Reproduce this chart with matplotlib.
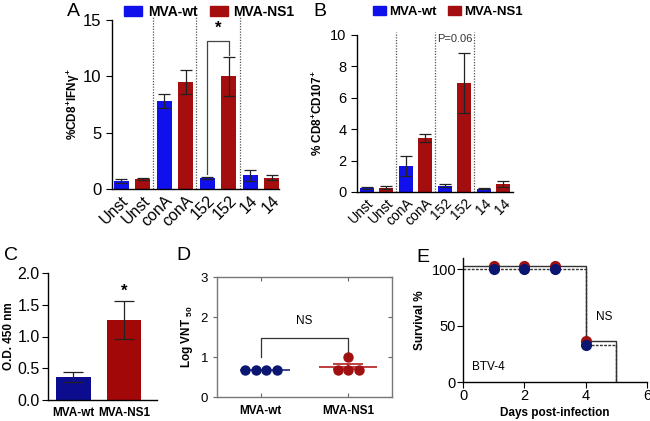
import numpy as np
import matplotlib
matplotlib.use("Agg")
import matplotlib.pyplot as plt
from matplotlib.patches import Patch

plt.rcParams["font.family"] = ["Liberation Sans", "DejaVu Sans"]
plt.rcParams["mathtext.fontset"] = "custom"
plt.rcParams["mathtext.rm"] = "Liberation Sans:bold"
plt.rcParams["mathtext.it"] = "Liberation Sans:bold"
plt.rcParams["mathtext.bf"] = "Liberation Sans:bold"
plt.rcParams["axes.linewidth"] = 1.0

# ---- data ----
groups = ["MVA-wt", "MVA-NS1"]
stim_labels = ["Unst", "Unst", "conA", "conA", "152", "152", "14", "14"]

ifn_wt = [0.7, 7.8, 0.95, 1.2]
ifn_wt_err = [0.15, 0.6, 0.1, 0.45]
ifn_ns1 = [0.9, 9.5, 10.0, 1.0]
ifn_ns1_err = [0.12, 1.05, 1.75, 0.2]

cd107_wt = [0.25, 1.65, 0.4, 0.22]
cd107_wt_err = [0.08, 0.65, 0.1, 0.06]
cd107_ns1 = [0.28, 3.45, 6.95, 0.52]
cd107_ns1_err = [0.08, 0.25, 1.9, 0.18]

od450 = [0.36, 1.26]
od450_err = [0.08, 0.3]

vnt_wt = [0.68, 0.68, 0.68, 0.68]
vnt_ns1 = [0.68, 0.68, 0.68, 1.0]

surv_days = [0, 4, 5]
surv_wt = [100, 33, 0]
surv_ns1 = [102.5, 36, 0]
mark_days = [1, 2, 3, 4]
mark_wt = [100, 100, 100, 33]
mark_ns1 = [103, 103, 103, 36]

BLUE = "#1010EC"
RED = "#A50E0E"
NAVY = "#0C0C8E"
DRED = "#A20808"

W, H = 650, 421
fig = plt.figure(figsize=(W / 100, H / 100), dpi=100)


def px_axes(x0, y0, x1, y1):
    return fig.add_axes([x0 / W, 1 - y1 / H, (x1 - x0) / W, (y1 - y0) / H])


def bar_panel(ax, wt, wt_err, ns1, ns1_err, ymax, step, tick_fs):
    vals, errs, cols = [], [], []
    for i in range(len(wt)):
        vals += [wt[i], ns1[i]]
        errs += [wt_err[i], ns1_err[i]]
        cols += [BLUE, RED]
    x = np.arange(len(vals))
    ax.bar(x, vals, width=0.7, color=cols)
    ax.errorbar(x, vals, yerr=errs, fmt="none", ecolor="#222222",
                elinewidth=0.9, capsize=4, capthick=0.9)
    for xv in [1.5, 3.5, 5.5]:
        ax.axvline(xv, color="#555555", ls=(0, (1, 1.2)), lw=0.9,
                   clip_on=False, ymax=1.02)
    ax.set_ylim(0, ymax)
    ax.set_yticks(np.arange(0, ymax + 0.01, step))
    ax.set_xticks(x)
    ax.set_xticklabels(stim_labels, rotation=45, ha="right",
                       rotation_mode="anchor", fontsize=tick_fs - 0.5)
    ax.tick_params(axis="y", labelsize=tick_fs, length=4)
    ax.tick_params(axis="x", length=0, pad=3)
    for s in ["top", "right"]:
        ax.spines[s].set_visible(False)


def legend(ax, x, y, fs, hl, tp, cs):
    handles = [Patch(color=BLUE), Patch(color=RED)]
    ax.legend(handles, groups, loc="center left", bbox_to_anchor=(x / W, 1 - y / H),
              bbox_transform=fig.transFigure, ncol=2, frameon=False,
              prop={"weight": "bold", "size": fs}, handlelength=hl,
              handleheight=0.7, columnspacing=cs, handletextpad=tp,
              borderpad=0, borderaxespad=0)


# ---- A ----
axA = px_axes(112, 20, 279, 189)
bar_panel(axA, ifn_wt, ifn_wt_err, ifn_ns1, ifn_ns1_err, 15, 5, 12)
axA.set_xlim(-0.42, 7.33)
axA.set_ylabel(r"%CD8$^{+}$IFN$\gamma^{+}$", fontweight="bold", fontsize=8.5,
               labelpad=1)
axA.plot([4, 4, 5, 5], [1.3, 13.1, 13.1, 11.9], color="#444444", lw=0.9)
axA.text(4.5, 13.6, "*", ha="center", va="bottom", fontsize=12, fontweight="bold")
legend(axA, 124, 12, 10, 1.3, 0.43, 0.86)

# ---- B ----
axB = px_axes(357, 35, 513, 192)
bar_panel(axB, cd107_wt, cd107_wt_err, cd107_ns1, cd107_ns1_err, 10, 2, 10.5)
axB.set_xlim(-0.5, 7.5)
axB.set_ylabel(r"% CD8$^{+}$CD107$^{+}$", fontweight="bold", fontsize=8.5)
axB.text(4.5, 9.75, "P=0.06", ha="center", va="center", fontsize=8, color="#333333")
legend(axB, 373, 12, 9.5, 0.95, 0.25, 0.9)

# ---- C ----
axC = px_axes(48, 273, 157, 400)
axC.bar([0, 1], od450, width=0.67, color=[NAVY, DRED])
axC.errorbar([0, 1], od450, yerr=od450_err, fmt="none", ecolor="#222222",
             elinewidth=0.9, capsize=7, capthick=0.9)
axC.text(1, 1.6, "*", ha="center", va="bottom", fontsize=12, fontweight="bold")
axC.set_xlim(-0.5, 1.64)
axC.set_ylim(0, 2.0)
axC.set_yticks([0.0, 0.5, 1.0, 1.5, 2.0])
axC.set_yticklabels(["0.0", "0.5", "1.0", "1.5", "2.0"])
axC.set_xticks([0, 1])
axC.set_xticklabels(groups, fontweight="bold", fontsize=8.5)
axC.tick_params(axis="y", labelsize=11.5, length=4, pad=2)
axC.tick_params(axis="x", length=0, pad=5)
axC.set_ylabel("O.D. 450 nm", fontweight="bold", fontsize=8.5, labelpad=2)
for s in ["top", "right"]:
    axC.spines[s].set_visible(False)

# ---- D ----
axD = px_axes(217, 277, 392, 397)
off_wt = [-0.18, -0.06, 0.06, 0.18]
off_ns1 = [-0.12, 0.0, 0.12, 0.0]
axD.hlines(np.mean(vnt_wt), -0.24, 0.33, color="#2A3A8A", lw=1.3)
m = np.mean(vnt_ns1)
sem = np.std(vnt_ns1) / np.sqrt(len(vnt_ns1))
axD.hlines(m, 1 - 0.33, 1 + 0.33, color="#B83030", lw=1.3)
axD.hlines([m + sem, m - sem], 1 - 0.17, 1 + 0.17, color="#B83030", lw=1.3)
axD.vlines(1, m - sem, m + sem, color="#B83030", lw=1.3)
axD.scatter(np.array(off_wt), vnt_wt, s=42, color="#0A1670", zorder=3)
axD.scatter(1 + np.array(off_ns1), vnt_ns1, s=42, color="#A01010", zorder=3)
axD.plot([0, 0, 1, 1], [1.0, 1.475, 1.475, 1.0], color="#333333", lw=0.9)
axD.text(0.5, 1.9, "NS", ha="center", va="center", fontsize=8.5)
axD.set_xlim(-0.5, 1.5)
axD.set_ylim(0, 3)
axD.set_yticks([0, 1, 2, 3])
axD.set_xticks([0, 1])
axD.set_xticklabels(groups, fontweight="bold", fontsize=8.5)
axD.tick_params(axis="x", direction="in", length=3, pad=6, color="#666666")
axD.tick_params(axis="y", labelsize=9.5, length=3, color="#666666")
for s in axD.spines.values():
    s.set_color("#777777")
sec = axD.secondary_yaxis("right")
sec.set_yticks([0, 1, 2, 3])
sec.tick_params(direction="in", length=3, labelright=False, color="#666666")
sec.spines["right"].set_visible(False)
secx = axD.secondary_xaxis("top")
secx.set_xticks([0, 1])
secx.tick_params(direction="in", length=3, labeltop=False, color="#666666")
secx.spines["top"].set_visible(False)
axD.set_ylabel(r"Log VNT $_{50}$", fontweight="bold", fontsize=8.5)

# ---- E ----
axE = px_axes(463, 258, 647, 382)
axE.step(surv_days, surv_ns1, where="post", color="#333333", lw=1.0)
axE.step(surv_days, surv_wt, where="post", color="#333333", lw=1.0, ls=(0, (2, 1)))
axE.plot(mark_days, mark_ns1, "o", ms=7, color="#A01010", ls="none", zorder=3)
axE.plot(mark_days, mark_wt, "o", ms=7, color="#0A1670", ls="none", zorder=4)
axE.text(0.82, 13, "BTV-4", ha="center", va="center", fontsize=8.5)
axE.text(4.6, 58, "NS", ha="center", va="center", fontsize=8.5)
axE.set_xlim(0, 6)
axE.set_ylim(0, 110)
axE.set_xticks([0, 2, 4, 6])
axE.set_yticks([0, 50, 100])
axE.tick_params(labelsize=10.5, length=4, pad=1)
axE.set_xlabel("Days post-infection", fontweight="bold", fontsize=8.5, labelpad=3)
axE.set_ylabel("Survival %", fontweight="bold", fontsize=8.5)
for s in ["top", "right"]:
    axE.spines[s].set_visible(False)

# ---- panel letters ----
for lab, x, y in [("A", 67, 12), ("B", 313, 12), ("C", 4, 255),
                  ("D", 176, 255), ("E", 416, 257)]:
    fig.text(x / W, 1 - y / H, lab, fontsize=14, va="center", ha="left")

fig.savefig("out.png", dpi=100)
